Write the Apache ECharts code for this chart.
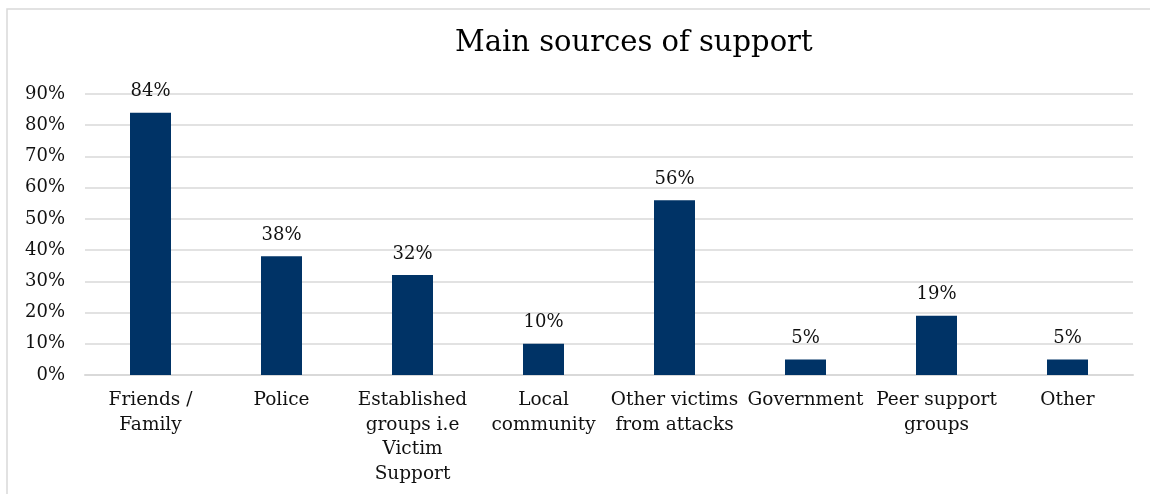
<!DOCTYPE html>
<html>
<head>
<meta charset="utf-8">
<script src="https://cdn.jsdelivr.net/npm/echarts@6/dist/echarts.min.js"></script>
<style>
html,body{margin:0;padding:0;background:#fff;}
#c{width:1150px;height:494px;}
</style>
</head>
<body>
<div id="c"></div>
<script>
const categories = ["Friends /\nFamily", "Police", "Established\ngroups i.e\nVictim\nSupport", "Local\ncommunity", "Other victims\nfrom attacks", "Government", "Peer support\ngroups", "Other"];
const values = [84, 38, 32, 10, 56, 5, 19, 5];
const titleText = "Main sources of support";

const FONT = "'DejaVu Serif', serif";
const chart = echarts.init(document.getElementById('c'), null, {renderer: 'canvas'});
chart.setOption({
  animation: false,
  backgroundColor: '#fff',
  graphic: [{
    type: 'rect',
    shape: {x: 7, y: 9, width: 1160, height: 500},
    style: {fill: 'none', stroke: '#d9d9d9', lineWidth: 1.5},
    silent: true, z: -1
  }],
  title: {
    text: titleText,
    left: 450, top: 24,
    textStyle: {fontFamily: FONT, fontSize: 29, fontWeight: 'normal', color: '#000'}
  },
  grid: {left: 85, right: 17, top: 94, bottom: 119, containLabel: false},
  xAxis: {
    type: 'category',
    data: categories,
    axisTick: {show: false},
    axisLine: {show: true, lineStyle: {color: '#d9d9d9', width: 2}},
    axisLabel: {interval: 0, margin: 13, fontFamily: FONT, fontSize: 18.5, lineHeight: 24.5, color: '#111'}
  },
  yAxis: {
    type: 'value',
    min: 0, max: 90, interval: 10,
    axisLine: {show: false},
    axisTick: {show: false},
    splitLine: {lineStyle: {color: '#d9d9d9', width: 1.5}},
    axisLabel: {formatter: '{value}%', margin: 20, fontFamily: FONT, fontSize: 18, color: '#111'}
  },
  series: [{
    type: 'bar',
    data: values,
    barWidth: 41,
    itemStyle: {color: '#003366'},
    label: {show: true, position: 'top', distance: 12, formatter: '{c}%', fontFamily: FONT, fontSize: 18, color: '#111'}
  }]
});
</script>
</body>
</html>
